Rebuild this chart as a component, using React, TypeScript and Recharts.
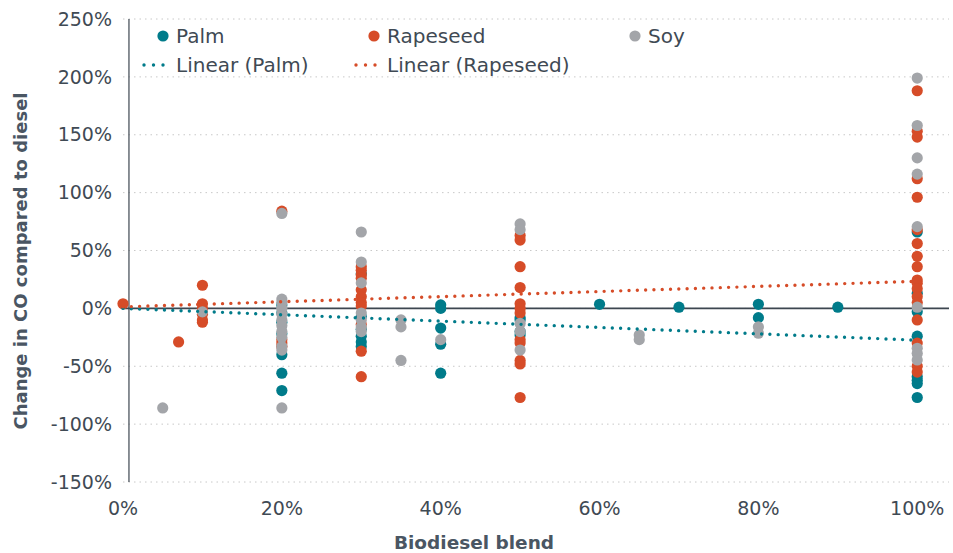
import React from 'react';
import { ScatterChart, Scatter, XAxis, YAxis, CartesianGrid, ReferenceLine, Label } from 'recharts';

// blend (%), change in CO (%)
const palmPoints: [number, number][] = [
  [20, 3], [20, -4], [20, -12], [20, -22], [20, -40], [20, -56], [20, -71],
  [30, 30], [30, -7], [30, -18], [30, -24], [30, -29], [30, -33],
  [40, 3], [40, 0], [40, -17], [40, -31], [40, -56],
  [50, -8], [50, -10], [50, -20], [50, -23],
  [60, 3.5], [70, 1], [80, 3.5], [80, -8], [90, 1],
  [100, 66], [100, 13], [100, -3], [100, -24], [100, -59], [100, -62], [100, -65], [100, -77],
];

const rapeseedPoints: [number, number][] = [
  [0, 4], [7, -29],
  [10, 20], [10, 4], [10, 0], [10, -5], [10, -10], [10, -12],
  [20, 84], [20, -27], [20, -30], [20, -33],
  [30, 36], [30, 33], [30, 29], [30, 26], [30, 16], [30, 10], [30, 5], [30, 2], [30, -14], [30, -37], [30, -59],
  [50, 63], [50, 59], [50, 36], [50, 18], [50, 4], [50, 0], [50, -4], [50, -27], [50, -30], [50, -45], [50, -48], [50, -77],
  [100, 188], [100, 153], [100, 148], [100, 112], [100, 96], [100, 68], [100, 56], [100, 45], [100, 36],
  [100, 24.5], [100, 21.7], [100, 17], [100, 10], [100, 5], [100, -10], [100, -30], [100, -50], [100, -55],
];

const soyPoints: [number, number][] = [
  [5, -86], [10, -3],
  [20, 82], [20, 8], [20, 5], [20, 0], [20, -5], [20, -10], [20, -15], [20, -20], [20, -25], [20, -33], [20, -36], [20, -86],
  [30, 66], [30, 40], [30, 22], [30, -4], [30, -10], [30, -16], [30, -20],
  [35, -10], [35, -16], [35, -45],
  [40, -27],
  [50, 73], [50, 68], [50, -13], [50, -20], [50, -36],
  [65, -23], [65, -27],
  [80, -16], [80, -21.5],
  [100, 199], [100, 158], [100, 130], [100, 116], [100, 70.6], [100, 1], [100, -34.5], [100, -39], [100, -44.6],
];

// trendline end points
const palmTrend: [number, number][] = [[0, 0], [100, -27.5]];
const rapeseedTrend: [number, number][] = [[0, 1.3], [100, 23.4]];

const xTicks = [0, 20, 40, 60, 80, 100];
const yTicks = [-150, -100, -50, 0, 50, 100, 150, 200, 250];

const TEAL = '#007b8a';
const RED = '#d64c28';
const GRAY = '#a3a5a9';
const TEXT = '#3f4a54';
const FONT = '"DejaVu Sans", sans-serif';

const toData = (pts: [number, number][]) => pts.map(([x, y]) => ({ x, y }));
const toSegment = (pts: [number, number][]) => pts.map(([x, y]) => ({ x, y }));

const dot = (color: string) => (p: any) => <circle cx={p.cx} cy={p.cy} r={5.6} fill={color} />;

const LegendBox = () => {
  const text: React.CSSProperties = { position: 'absolute', fontFamily: FONT, fontSize: 20, color: TEXT, lineHeight: '20px', whiteSpace: 'nowrap' };
  const DotMark = ({ left, top, color }: any) => (
    <svg style={{ position: 'absolute', left: left - 7, top: top - 7 }} width={14} height={14}>
      <circle cx={7} cy={7} r={5.6} fill={color} />
    </svg>
  );
  const LineMark = ({ left, top, color }: any) => (
    <svg style={{ position: 'absolute', left: left - 4, top: top - 4 }} width={28} height={8}>
      {[4, 13.5, 23].map((c) => <circle key={c} cx={c} cy={4} r={1.7} fill={color} />)}
    </svg>
  );
  return (
    <div style={{ position: 'absolute', left: 0, top: 0, width: 953, height: 90, pointerEvents: 'none' }}>
      <DotMark left={163} top={36} color={TEAL} />
      <span style={{ ...text, left: 176, top: 26 }}>Palm</span>
      <DotMark left={374} top={36} color={RED} />
      <span style={{ ...text, left: 387, top: 26 }}>Rapeseed</span>
      <DotMark left={635} top={36} color={GRAY} />
      <span style={{ ...text, left: 648, top: 26 }}>Soy</span>
      <LineMark left={144} top={65} color={TEAL} />
      <span style={{ ...text, left: 176, top: 55 }}>Linear (Palm)</span>
      <LineMark left={356} top={65} color={RED} />
      <span style={{ ...text, left: 387, top: 55 }}>Linear (Rapeseed)</span>
    </div>
  );
};

const App: React.FC = () => {
  return (
    <div style={{ position: 'relative', width: 953, height: 553, background: '#fff' }}>
      <style>{'body{margin:0}'}</style>
      <ScatterChart width={953} height={553} margin={{ top: 19, right: 4, bottom: 31, left: 0 }}>
        <CartesianGrid vertical={false} stroke="#c8c8c8" strokeDasharray="1.5 4" />
        <XAxis
          type="number"
          dataKey="x"
          domain={[0, 104]}
          ticks={xTicks}
          tickFormatter={(v) => `${v}%`}
          axisLine={false}
          tickLine={false}
          tickSize={0}
          tickMargin={20}
          height={40}
          tick={{ fill: TEXT, fontSize: 19, fontFamily: FONT }}
        >
          <Label
            content={() => (
              <text x={474} y={549} textAnchor="middle" fill="#4a5663" fontFamily={FONT} fontSize={18.5} fontWeight={700}>
                Biodiesel blend
              </text>
            )}
          />
        </XAxis>
        <YAxis
          type="number"
          dataKey="y"
          domain={[-150, 250]}
          ticks={yTicks}
          tickFormatter={(v) => `${v}%`}
          axisLine={false}
          tickLine={false}
          tickSize={0}
          tickMargin={11}
          width={123}
          tick={{ fill: TEXT, fontSize: 19, fontFamily: FONT }}
        >
          <Label
            content={() => (
              <text
                x={27}
                y={261}
                transform="rotate(-90 27 261)"
                textAnchor="middle"
                fill="#4a5663"
                fontFamily={FONT}
                fontSize={18}
                fontWeight={700}
              >
                Change in CO compared to diesel
              </text>
            )}
          />
        </YAxis>
        <ReferenceLine y={0} stroke="#3d4650" strokeWidth={1.8} />
        <ReferenceLine x={0.75} stroke="#3d4650" strokeWidth={1.2} />
        <Scatter name="Palm" data={toData(palmPoints)} fill={TEAL} shape={dot(TEAL)} isAnimationActive={false} />
        <Scatter name="Rapeseed" data={toData(rapeseedPoints)} fill={RED} shape={dot(RED)} isAnimationActive={false} />
        <Scatter name="Soy" data={toData(soyPoints)} fill={GRAY} shape={dot(GRAY)} isAnimationActive={false} />
        <ReferenceLine
          segment={toSegment(palmTrend)}
          stroke={TEAL}
          strokeWidth={3.4}
          strokeDasharray="0 8.3"
          strokeLinecap="round"
          zIndex={700}
        />
        <ReferenceLine
          segment={toSegment(rapeseedTrend)}
          stroke={RED}
          strokeWidth={3.4}
          strokeDasharray="0 8.3"
          strokeLinecap="round"
          zIndex={700}
        />
      </ScatterChart>
      <LegendBox />
    </div>
  );
};

export default App;
